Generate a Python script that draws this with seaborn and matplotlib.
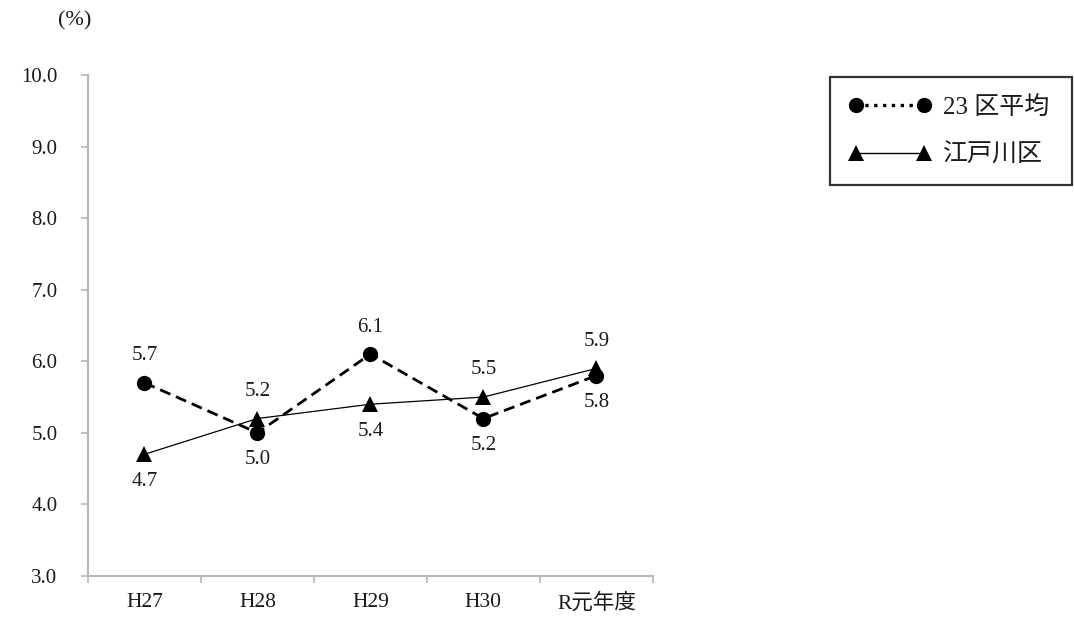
import matplotlib
matplotlib.use("Agg")
import matplotlib.pyplot as plt
from matplotlib.lines import Line2D
import numpy as np
import pandas as pd
import seaborn as sns

# Fiscal years and rates (%)
years = ["H27", "H28", "H29", "H30", "R元年度"]
avg23 = [5.7, 5.0, 6.1, 5.2, 5.8]
edogawa = [4.7, 5.2, 5.4, 5.5, 5.9]
series_names = ["23 区平均", "江戸川区"]

# label placement per point: +1 above, -1 below
avg23_pos = [1, -1, 1, -1, -1]
edogawa_pos = [-1, 1, -1, 1, 1]

sns.set_theme(style="white")
plt.rcParams["font.family"] = ["Liberation Serif", "Noto Sans CJK JP", "DejaVu Sans"]
plt.rcParams["axes.unicode_minus"] = False

FS = 15
AXIS_GRAY = "#b8b8b8"
TEXT = "#1a1a1a"

df = pd.DataFrame({
    "year": years * 2,
    "rate": avg23 + edogawa,
    "series": [series_names[0]] * 5 + [series_names[1]] * 5,
})

fig = plt.figure(figsize=(10.74, 6.21), dpi=100)
ax = fig.add_axes([0.0819, 0.0725, 0.526, 0.8067])

sns.lineplot(data=df[df.series == series_names[0]], x="year", y="rate",
             ax=ax, color="black", linewidth=2.0, marker="o", markersize=11,
             sort=False, legend=False)
sns.lineplot(data=df[df.series == series_names[1]], x="year", y="rate",
             ax=ax, color="black", linewidth=0.9, marker="^", markersize=11,
             sort=False, legend=False)
ax.lines[0].set_linestyle((0, (4, 2.2)))
ax.lines[0].set_markeredgewidth(0)
ax.lines[1].set_markeredgewidth(0)

# value labels
for vals, pos in ((avg23, avg23_pos), (edogawa, edogawa_pos)):
    for i, (v, p) in enumerate(zip(vals, pos)):
        ax.annotate(f"{v:.1f}", (i, v), xytext=(0, 19.5 * p), textcoords="offset points",
                    ha="center", va="center", fontsize=FS, color=TEXT)

ax.set_xlim(-0.5, 4.5)
ax.set_ylim(3.0, 10.0)
yt = np.arange(3, 10.01, 1.0)
ax.set_yticks(yt)
ax.set_yticklabels([f"{t:.1f}" for t in yt], fontsize=FS, color=TEXT)
ax.set_xticks(range(len(years)))
ax.set_xticklabels(years, fontsize=15.5, color=TEXT)
ax.set_xticks(np.arange(-0.5, 4.51, 1.0), minor=True)
ax.tick_params(axis="x", which="major", length=0, pad=12)
ax.tick_params(axis="x", which="minor", length=5, width=1.2, color=AXIS_GRAY, direction="out", bottom=True)
ax.tick_params(axis="y", which="major", length=5, width=1.2, color=AXIS_GRAY, direction="out", left=True, pad=17)
ax.set_xlabel("")
ax.set_ylabel("")

for side in ("top", "right"):
    ax.spines[side].set_visible(False)
for side in ("left", "bottom"):
    ax.spines[side].set_color(AXIS_GRAY)
    ax.spines[side].set_linewidth(1.5)

fig.text(0.0695, 0.966, "(%)", fontsize=16, ha="center", va="center", color=TEXT)

handles = [
    Line2D([0], [0], color="black", linestyle=":", linewidth=2.4, marker="o",
           markersize=11, markeredgewidth=0),
    Line2D([0], [0], color="black", linestyle="-", linewidth=1.0, marker="^",
           markersize=11, markeredgewidth=0),
]
leg = fig.legend(handles, series_names, loc="upper left",
                 bbox_to_anchor=(0.773, 0.704, 0.2253, 0.172), mode="expand",
                 fontsize=18, frameon=True, fancybox=False, edgecolor="black",
                 handlelength=3.3, handletextpad=0.45, labelspacing=1.0,
                 borderpad=0.75, borderaxespad=0, numpoints=2)
leg.get_frame().set_linewidth(1.6)
for t in leg.get_texts():
    t.set_color(TEXT)

fig.savefig("out.png", dpi=100, facecolor="white")
